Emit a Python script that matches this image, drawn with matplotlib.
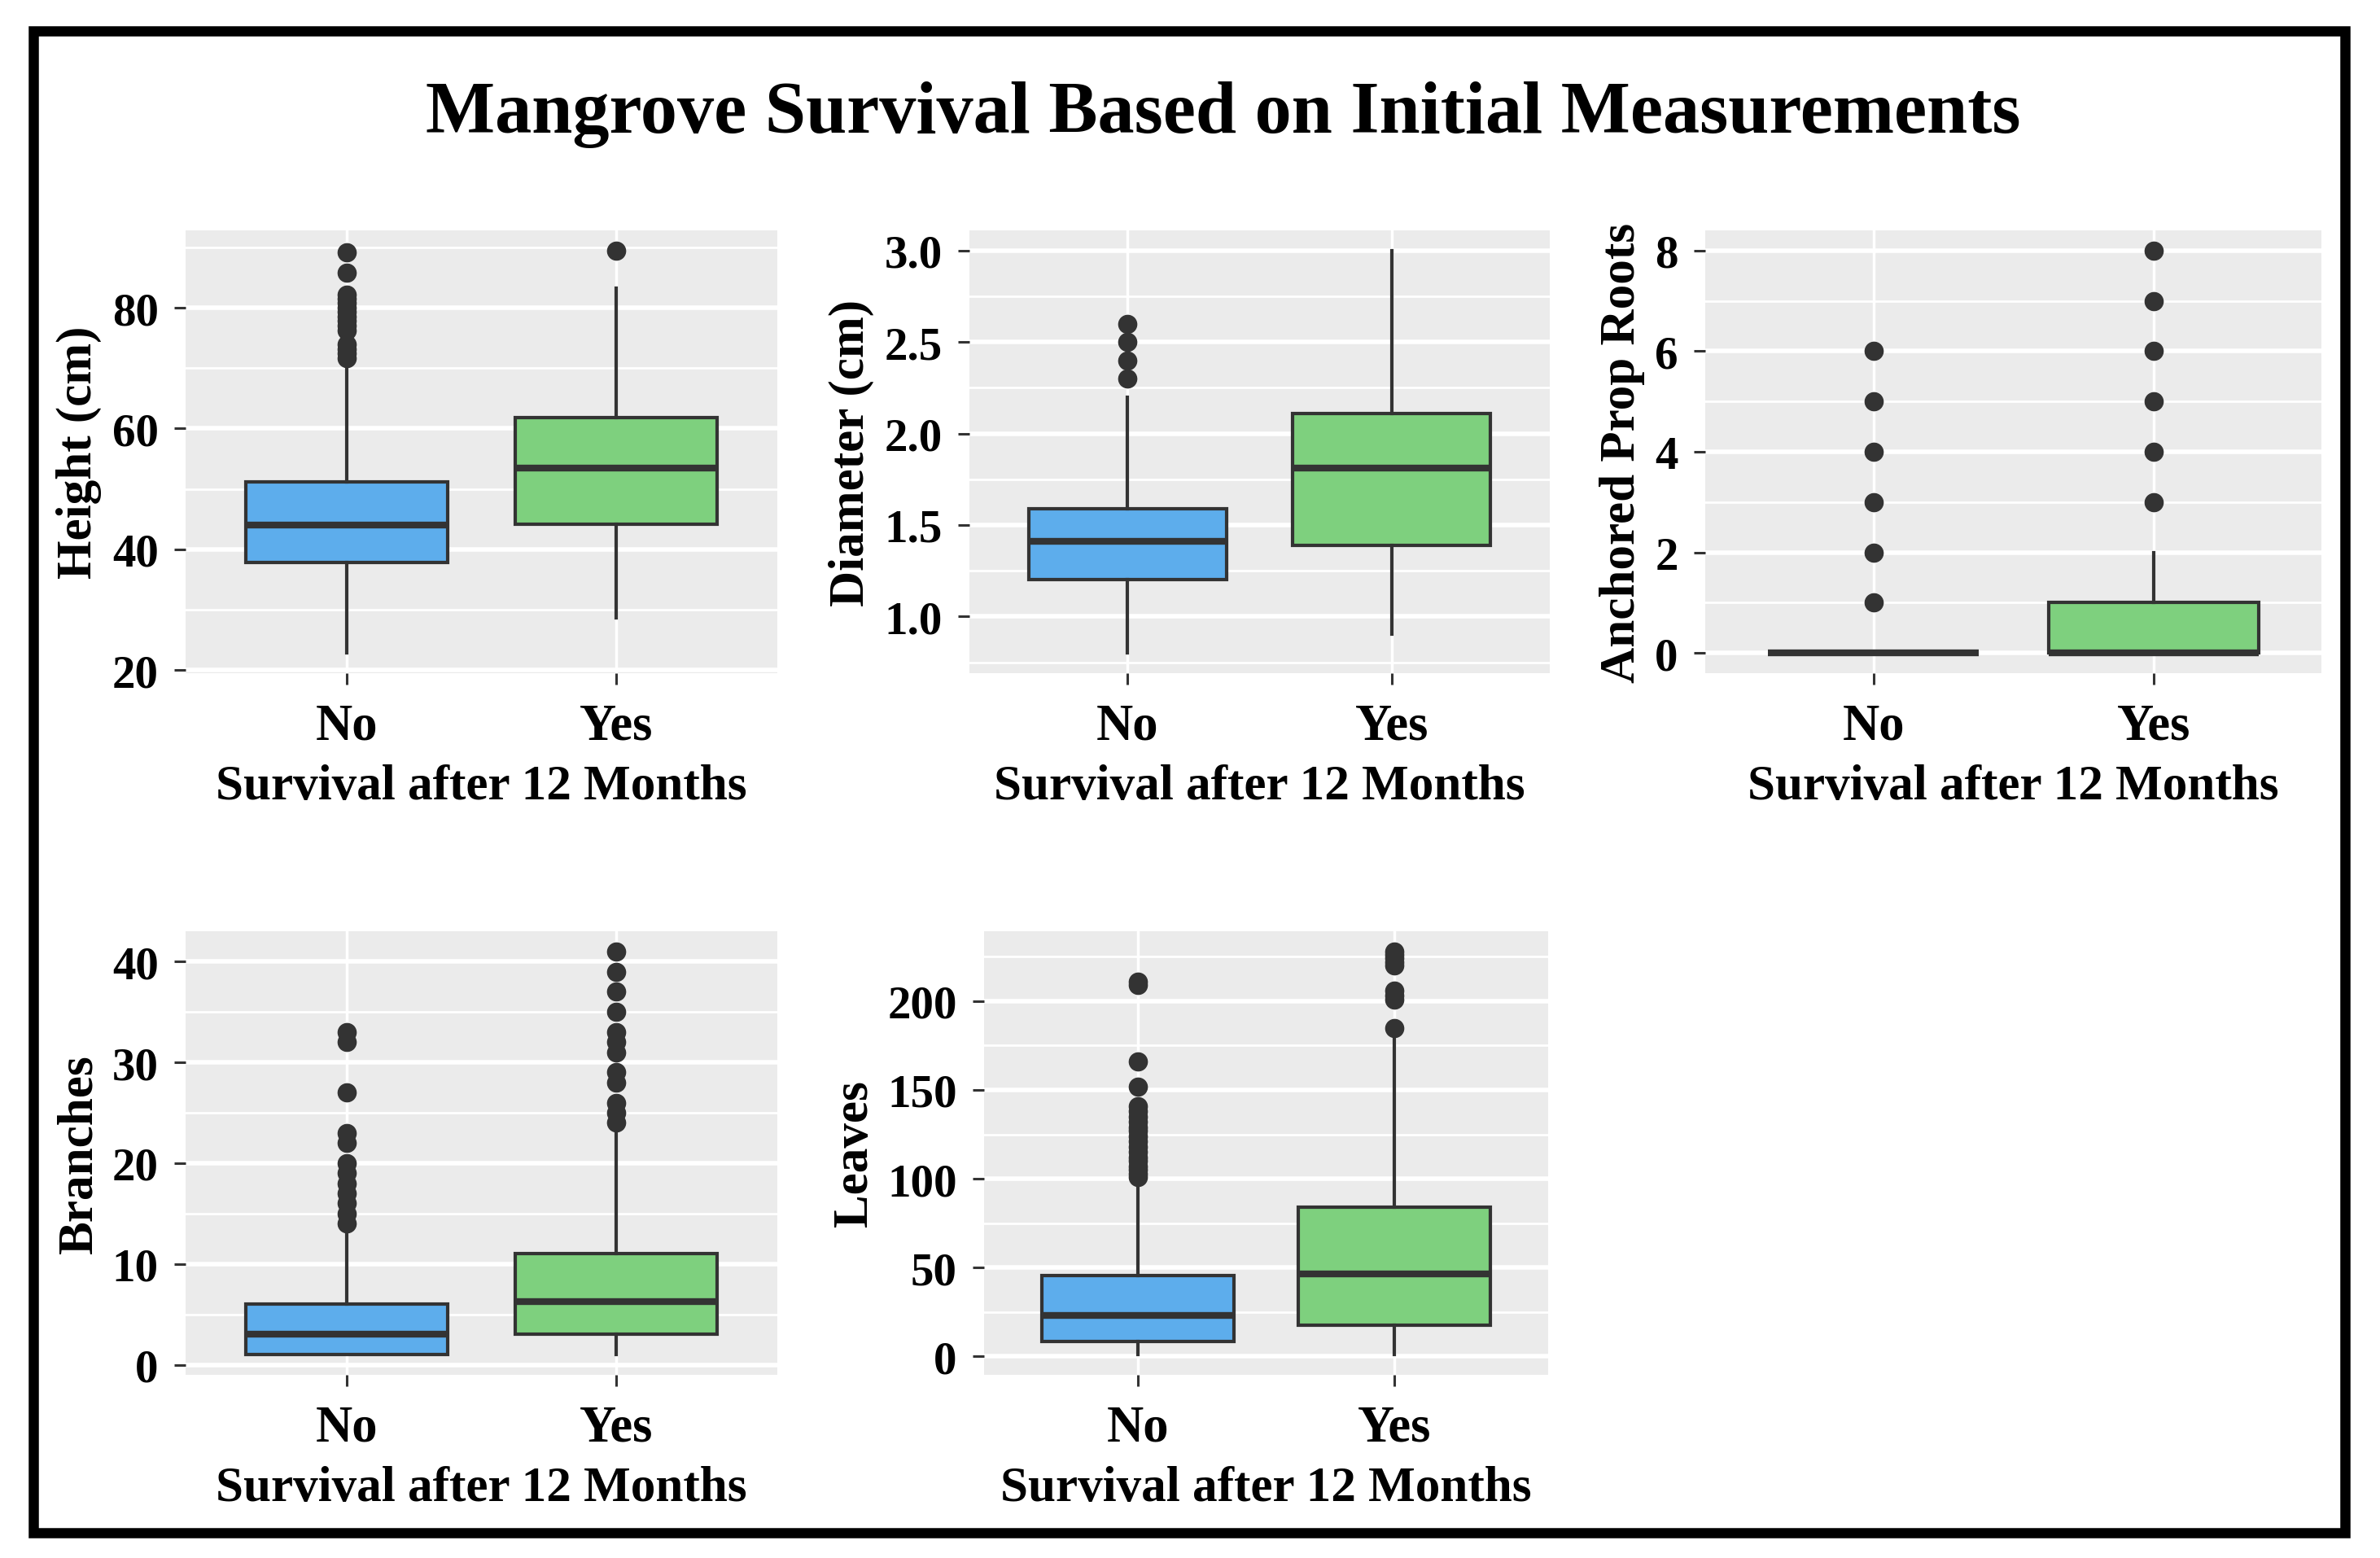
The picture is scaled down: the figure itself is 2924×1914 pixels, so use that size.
import matplotlib
matplotlib.use('Agg')
import matplotlib.pyplot as plt
from matplotlib.patches import Rectangle
from matplotlib.ticker import FixedLocator, FormatStrFormatter

plt.rcParams['font.family'] = ['Liberation Serif', 'DejaVu Serif']
plt.rcParams['font.weight'] = 'bold'

# ---------------- data ----------------
title = "Mangrove Survival Based on Initial Measurements"
groups = ['No', 'Yes']
group_colors = ['#5DADEC', '#7ED07E']
xlabel = "Survival after 12 Months"

# Height (cm)
height_q1 = [37.8, 44.1]
height_med = [44.0, 53.5]
height_q3 = [51.1, 61.8]
height_lo = [22.8, 28.7]
height_hi = [70.1, 83.2]
height_out_no = [71.7, 72.5, 73.2, 74.0, 76.2, 77.0, 77.8, 78.5, 79.3, 80.0, 80.8, 81.5, 82.2, 85.8, 89.2]
height_out_yes = [89.5]

# Diameter (cm)
diam_q1 = [1.20, 1.39]
diam_med = [1.41, 1.81]
diam_q3 = [1.59, 2.11]
diam_lo = [0.80, 0.905]
diam_hi = [2.20, 3.00]
diam_out_no = [2.3, 2.4, 2.5, 2.6]
diam_out_yes = []

# Anchored Prop Roots
roots_q1 = [0, 0]
roots_med = [0, 0]
roots_q3 = [0, 1]
roots_lo = [0, 0]
roots_hi = [0, 2]
roots_out_no = [1, 2, 3, 4, 5, 6]
roots_out_yes = [3, 4, 5, 6, 7, 8]

# Branches
branch_q1 = [1, 3]
branch_med = [3, 6.3]
branch_q3 = [6, 11]
branch_lo = [1, 1]
branch_hi = [13, 23]
branch_out_no = [14, 15, 16, 17, 18, 19, 20, 22, 23, 27, 32, 33]
branch_out_yes = [24, 25, 26, 28, 29, 31, 32, 33, 35, 37, 39, 41]

# Leaves
leaves_q1 = [8.5, 17.7]
leaves_med = [23.0, 46.6]
leaves_q3 = [45.7, 84.2]
leaves_lo = [1, 1]
leaves_hi = [95.7, 182.6]
leaves_out_no = [101, 103, 105, 107, 110, 112, 115, 118, 121, 124, 127, 129, 132, 135, 138, 141, 152, 166, 209, 211]
leaves_out_yes = [185, 201, 203, 206, 220, 222, 224, 226, 228]


def make_stats(q1, med, q3, lo, hi, out_no, out_yes):
    outs = [out_no, out_yes]
    return [dict(q1=q1[i], med=med[i], q3=q3[i], whislo=lo[i], whishi=hi[i],
                 fliers=outs[i], label=groups[i]) for i in range(2)]


panels = [
    dict(rect=[0.0780, 0.5676, 0.2486, 0.2841], ylabel='Height (cm)',
         stats=make_stats(height_q1, height_med, height_q3, height_lo, height_hi, height_out_no, height_out_yes),
         major=[20, 40, 60, 80], minor=[30, 50, 70, 90], fmt='%d'),
    dict(rect=[0.4073, 0.5676, 0.2439, 0.2841], ylabel='Diameter (cm)',
         stats=make_stats(diam_q1, diam_med, diam_q3, diam_lo, diam_hi, diam_out_no, diam_out_yes),
         major=[1.0, 1.5, 2.0, 2.5, 3.0], minor=[0.75, 1.25, 1.75, 2.25, 2.75], fmt='%.1f'),
    dict(rect=[0.7165, 0.5676, 0.2589, 0.2841], ylabel='Anchored Prop Roots',
         stats=make_stats(roots_q1, roots_med, roots_q3, roots_lo, roots_hi, roots_out_no, roots_out_yes),
         major=[0, 2, 4, 6, 8], minor=[1, 3, 5, 7], fmt='%d'),
    dict(rect=[0.0780, 0.1175, 0.2486, 0.2846], ylabel='Branches',
         stats=make_stats(branch_q1, branch_med, branch_q3, branch_lo, branch_hi, branch_out_no, branch_out_yes),
         major=[0, 10, 20, 30, 40], minor=[5, 15, 25, 35], fmt='%d'),
    dict(rect=[0.4135, 0.1175, 0.2370, 0.2846], ylabel='Leaves',
         stats=make_stats(leaves_q1, leaves_med, leaves_q3, leaves_lo, leaves_hi, leaves_out_no, leaves_out_yes),
         major=[0, 50, 100, 150, 200], minor=[25, 75, 125, 175, 225], fmt='%d'),
]

fig = plt.figure(figsize=(29.24, 19.15), dpi=100)
fig.patch.set_facecolor('white')

dark = '#333333'
for p in panels:
    ax = fig.add_axes(p['rect'])
    ax.set_facecolor('#EBEBEB')
    bp = ax.bxp(p['stats'], positions=[1, 2], widths=0.75, patch_artist=True,
                showcaps=False,
                boxprops=dict(edgecolor=dark, linewidth=3.0),
                medianprops=dict(color=dark, linewidth=6.0, solid_capstyle='butt'),
                whiskerprops=dict(color=dark, linewidth=3.0),
                flierprops=dict(marker='o', markerfacecolor=dark, markeredgecolor=dark,
                                markersize=16, linestyle='none'))
    for patch, c in zip(bp['boxes'], group_colors):
        patch.set_facecolor(c)
    ax.set_xlim(0.4, 2.6)
    ax.margins(y=0.05)
    ax.yaxis.set_major_locator(FixedLocator(p['major']))
    ax.yaxis.set_minor_locator(FixedLocator(p['minor']))
    ax.yaxis.set_major_formatter(FormatStrFormatter(p['fmt']))
    ax.set_xticks([1, 2])
    ax.set_xticklabels(groups)
    ax.set_axisbelow(True)
    ax.grid(which='major', axis='y', color='white', linewidth=4.0)
    ax.grid(which='minor', axis='y', color='white', linewidth=2.0)
    ax.grid(which='major', axis='x', color='white', linewidth=2.5)
    for s in ax.spines.values():
        s.set_visible(False)
    ax.tick_params(axis='both', which='major', length=10, width=2.2, color=dark)
    ax.tick_params(axis='y', which='minor', length=0)
    ax.tick_params(axis='x', which='major', labelsize=45, pad=16)
    ax.tick_params(axis='y', which='major', labelsize=41, pad=14)
    for lab in ax.get_xticklabels() + ax.get_yticklabels():
        lab.set_fontweight('bold')
    ax.set_xlabel(xlabel, fontsize=44, fontweight='bold', labelpad=12)
    ax.set_ylabel(p['ylabel'], fontsize=44, fontweight='bold', labelpad=9)

fig.text(0.514, 0.915, title, ha='center', va='baseline', fontsize=65, fontweight='bold')

fig.patches.append(Rectangle((0.0140, 0.0162), 0.9713, 0.9634, transform=fig.transFigure,
                             fill=False, linewidth=9, edgecolor='black'))

fig.savefig('out.png', dpi=100, facecolor='white')
